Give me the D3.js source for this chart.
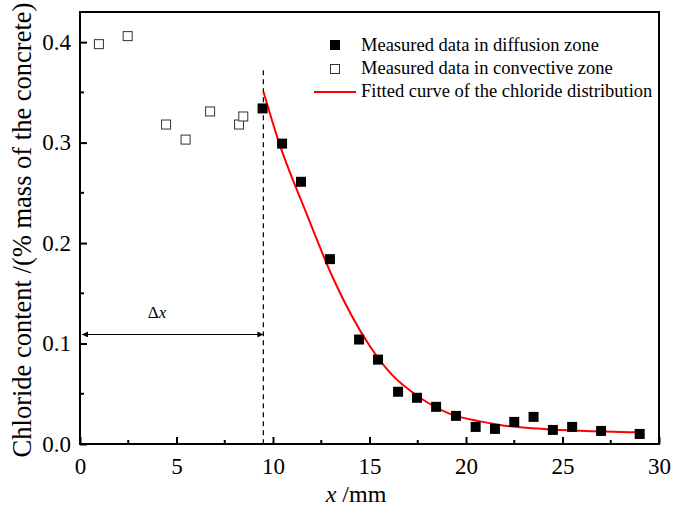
<!DOCTYPE html>
<html>
<head>
<meta charset="utf-8">
<title>Chloride profile</title>
<style>
  body { margin: 0; background: #fff; }
  text { font-family: "Liberation Serif", "Times New Roman", serif; fill: #000; }
</style>
</head>
<body>
<svg width="690" height="506"></svg>
<script src="https://d3js.org/d3.v7.min.js"></script>
<script>
  // measured points, diffusion zone (filled squares)
  const diffX = [9.46, 10.47, 11.45, 12.95, 14.46, 15.44, 16.48, 17.46, 18.45, 19.48, 20.5, 21.5, 22.5, 23.5, 24.5, 25.5, 27.0, 29.0];
  const diffY = [0.334, 0.299, 0.261, 0.184, 0.104, 0.084, 0.052, 0.046, 0.037, 0.028, 0.017, 0.015, 0.022, 0.027, 0.014, 0.017, 0.013, 0.010];

  // measured points, convective zone (open squares)
  const convX = [0.98, 2.47, 4.46, 5.47, 6.74, 8.24, 8.46];
  const convY = [0.398, 0.406, 0.318, 0.303, 0.331, 0.318, 0.326];

  // fitted curve
  const fitX = [9.5, 10.33, 11.66, 13.09, 15.03, 16.06, 17.62, 19.17, 20.73, 21.76, 24.18, 25.91, 29.02];
  const fitY = [0.351, 0.299, 0.233, 0.166, 0.097, 0.071, 0.046, 0.030, 0.0225, 0.019, 0.0148, 0.0132, 0.0116];

  const xTicks = [0, 5, 10, 15, 20, 25, 30];
  const yTicks = [0.0, 0.1, 0.2, 0.3, 0.4];
  const boundary = 9.5;     // x where diffusion zone starts
  const arrowY = 0.109;

  const svg = d3.select("svg");
  const mLeft = 80, mRight = 659, mTop = 12, mBottom = 444;
  const serif = "Liberation Serif";

  const x = d3.scaleLinear().domain([0, 30]).range([mLeft, mRight]);
  const y = d3.scaleLinear().domain([0, 0.43]).range([mBottom, mTop]);

  svg.append("defs").append("marker")
    .attr("id", "arr")
    .attr("viewBox", "0 0 10 10")
    .attr("refX", 10).attr("refY", 5)
    .attr("markerWidth", 10).attr("markerHeight", 6)
    .attr("markerUnits", "userSpaceOnUse")
    .attr("orient", "auto-start-reverse")
    .append("path").attr("d", "M0,0L10,5L0,10z").attr("fill", "#000");

  // frame
  svg.append("rect")
    .attr("x", mLeft).attr("y", mTop)
    .attr("width", mRight - mLeft).attr("height", mBottom - mTop)
    .attr("fill", "none").attr("stroke", "#000").attr("stroke-width", 2);

  // x axis
  const xAxis = svg.append("g").attr("transform", `translate(0,${mBottom})`)
    .call(d3.axisBottom(x).tickValues(xTicks).tickSize(-7).tickPadding(14).tickFormat(d3.format("d")));
  xAxis.attr("font-family", serif);
  xAxis.select(".domain").remove();
  xAxis.selectAll("line").attr("stroke-width", 2);
  xAxis.selectAll("text").attr("font-size", 23);
  svg.append("g").selectAll("line")
    .data(d3.range(2.5, 30, 5)).join("line")
    .attr("x1", d => x(d)).attr("x2", d => x(d))
    .attr("y1", mBottom).attr("y2", mBottom - 4)
    .attr("stroke", "#000").attr("stroke-width", 2);

  // y axis
  const yAxis = svg.append("g").attr("transform", `translate(${mLeft},0)`)
    .call(d3.axisLeft(y).tickValues(yTicks).tickSize(-7).tickPadding(9).tickFormat(d3.format(".1f")));
  yAxis.attr("font-family", serif);
  yAxis.select(".domain").remove();
  yAxis.selectAll("line").attr("stroke-width", 2);
  yAxis.selectAll("text").attr("font-size", 23);
  svg.append("g").selectAll("line")
    .data([0.05, 0.15, 0.25, 0.35]).join("line")
    .attr("x1", mLeft).attr("x2", mLeft + 4)
    .attr("y1", d => y(d)).attr("y2", d => y(d))
    .attr("stroke", "#000").attr("stroke-width", 2);

  // axis titles
  const xt = svg.append("text")
    .attr("x", 356).attr("y", 502)
    .attr("text-anchor", "middle").attr("font-size", 24);
  xt.append("tspan").attr("font-style", "italic").text("x");
  xt.append("tspan").text(" /mm");

  svg.append("text")
    .attr("transform", "translate(31,230) rotate(-90)")
    .attr("text-anchor", "middle").attr("font-size", 26.5)
    .text("Chloride content /(% mass of the concrete)");

  // boundary line and Δx arrow
  svg.append("line")
    .attr("x1", x(boundary)).attr("x2", x(boundary))
    .attr("y1", y(0.372)).attr("y2", mBottom)
    .attr("stroke", "#000").attr("stroke-width", 1.2)
    .attr("stroke-dasharray", "5,4");

  svg.append("line")
    .attr("x1", x(0) + 2).attr("x2", x(boundary))
    .attr("y1", y(arrowY)).attr("y2", y(arrowY))
    .attr("stroke", "#000").attr("stroke-width", 1)
    .attr("marker-start", "url(#arr)").attr("marker-end", "url(#arr)");

  const dl = svg.append("text")
    .attr("x", 157).attr("y", 318)
    .attr("text-anchor", "middle").attr("font-size", 17);
  dl.append("tspan").text("Δ");
  dl.append("tspan").attr("font-style", "italic").text("x");

  // fitted curve
  const fit = fitX.map((d, i) => [d, fitY[i]]);
  svg.append("path")
    .datum(fit)
    .attr("fill", "none").attr("stroke", "#ff0000").attr("stroke-width", 2)
    .attr("d", d3.line().x(d => x(d[0])).y(d => y(d[1])).curve(d3.curveMonotoneX));

  // points
  const sz = 10;
  svg.append("g").selectAll("rect")
    .data(convX.map((d, i) => [d, convY[i]])).join("rect")
    .attr("x", d => x(d[0]) - sz / 2 + 0.5).attr("y", d => y(d[1]) - sz / 2 + 0.5)
    .attr("width", sz - 1).attr("height", sz - 1)
    .attr("fill", "#fff").attr("stroke", "#333").attr("stroke-width", 1);

  svg.append("g").selectAll("rect")
    .data(diffX.map((d, i) => [d, diffY[i]])).join("rect")
    .attr("x", d => x(d[0]) - sz / 2).attr("y", d => y(d[1]) - sz / 2)
    .attr("width", sz).attr("height", sz)
    .attr("fill", "#000");

  // legend
  const lg = svg.append("g");
  lg.append("rect").attr("x", 330).attr("y", 40).attr("width", 10).attr("height", 10).attr("fill", "#000");
  lg.append("rect").attr("x", 330.5).attr("y", 64.5).attr("width", 9).attr("height", 9)
    .attr("fill", "#fff").attr("stroke", "#333");
  lg.append("line").attr("x1", 314).attr("x2", 356).attr("y1", 92).attr("y2", 92)
    .attr("stroke", "#ff0000").attr("stroke-width", 2);
  const labels = ["Measured data in diffusion zone", "Measured data in convective zone", "Fitted curve of the chloride distribution"];
  lg.selectAll("text.l").data(labels).join("text")
    .attr("class", "l")
    .attr("x", 361).attr("y", (d, i) => 51 + i * 23)
    .attr("font-size", 18.5)
    .text(d => d);
</script>
</body>
</html>
